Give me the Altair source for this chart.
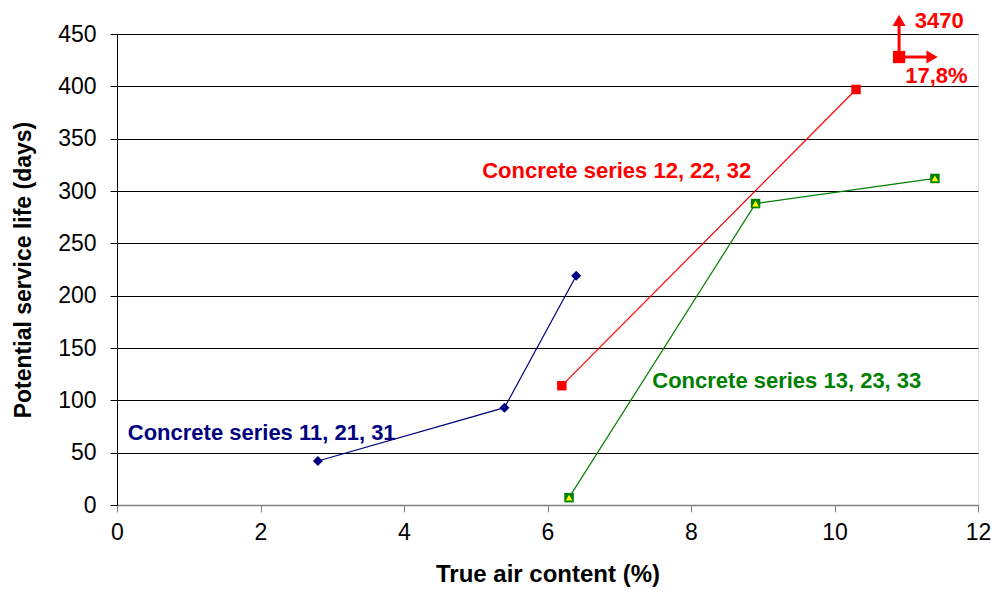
import altair as alt
import pandas as pd

# Data series
s1_x = [2.8, 5.4, 6.4]
s1_y = [42, 93, 219]
s2_x = [6.2, 10.3]
s2_y = [114, 397]
s3_x = [6.3, 8.9, 11.4]
s3_y = [7, 288, 312]

series_names = ["S11", "S12", "S13"]
series_colors = ["#000080", "#FF0000", "#008000"]

rows = []
for name, xs, ys in zip(series_names, [s1_x, s2_x, s3_x], [s1_y, s2_y, s3_y]):
    for i, (a, b) in enumerate(zip(xs, ys)):
        rows.append({"series": name, "x": a, "y": b, "order": i})
df = pd.DataFrame(rows)

# Annotations
label_text = ["Concrete  series 11, 21, 31", "Concrete series 12, 22, 32", "Concrete series 13, 23, 33"]
label_x = [0.15, 5.09, 7.46]
label_y = [69, 319, 118]
label_df = pd.DataFrame({"text": label_text, "x": label_x, "y": label_y, "series": series_names})

# Off-scale marker (3470 days, 17.8 %)
off_x = [10.9]
off_y = [428]
arrow_df = pd.DataFrame({"x": [10.9, 10.9], "y": [428, 428], "x2": [10.9, 11.3], "y2": [458, 428]})
head_df = pd.DataFrame({"x": [10.9, 11.36], "y": [463, 428], "shape": ["triangle-up", "triangle-right"]})
off_text = pd.DataFrame({"text": ["3470", "17,8%"], "x": [11.46, 11.42], "y": [462, 410]})

FONT = "Liberation Sans"

xs = alt.Scale(domain=[0, 12], nice=False)
ys = alt.Scale(domain=[0, 450], nice=False)
col = alt.Scale(domain=series_names, range=series_colors)

base = alt.Chart(df)

lines = base.mark_line(strokeWidth=1.2).encode(
    x=alt.X("x:Q", scale=xs, title="True air content (%)",
            axis=alt.Axis(values=[0, 2, 4, 6, 8, 10, 12], format="d", grid=False, tickSize=7,
                          labelFlush=False, labelOverlap=False,
                          domainColor="#808080", tickColor="#808080", domainWidth=1.5,
                          labelFontSize=23, titleFontSize=24, titleFontWeight="bold",
                          labelFont=FONT, titleFont=FONT, labelColor="black", titleColor="black",
                          labelPadding=9, titlePadding=18)),
    y=alt.Y("y:Q", scale=ys, title="Potential service life (days)",
            axis=alt.Axis(values=list(range(0, 451, 50)), format="d", grid=True, gridColor="#000000",
                          labelFlush=False, labelOverlap=False,
                          gridWidth=1, tickSize=7, domainColor="#000000", tickColor="#000000",
                          labelFontSize=23, titleFontSize=23, titleFontWeight="bold",
                          labelFont=FONT, titleFont=FONT, labelColor="black", titleColor="black",
                          labelPadding=14, titlePadding=22)),
    color=alt.Color("series:N", scale=col, legend=None),
    detail="series:N",
    order="order:Q",
)

m1 = alt.Chart(df[df.series == "S11"]).mark_point(shape="diamond", filled=True, size=100, opacity=1, color="#000080").encode(
    x=alt.X("x:Q", scale=xs), y=alt.Y("y:Q", scale=ys))
m2 = alt.Chart(df[df.series == "S12"]).mark_point(shape="square", filled=True, size=90, opacity=1, color="#FF0000").encode(
    x=alt.X("x:Q", scale=xs), y=alt.Y("y:Q", scale=ys))
m3a = alt.Chart(df[df.series == "S13"]).mark_point(shape="square", filled=True, size=90, opacity=1, color="#008000").encode(
    x=alt.X("x:Q", scale=xs), y=alt.Y("y:Q", scale=ys))
m3b = alt.Chart(df[df.series == "S13"]).mark_point(shape="triangle-up", filled=True, size=45, opacity=1, color="#FFFF00").encode(
    x=alt.X("x:Q", scale=xs), y=alt.Y("y:Q", scale=ys))

labels = alt.Chart(label_df).mark_text(align="left", baseline="middle", fontSize=22, fontWeight="bold", font=FONT).encode(
    x=alt.X("x:Q", scale=xs), y=alt.Y("y:Q", scale=ys),
    text="text:N", color=alt.Color("series:N", scale=col, legend=None))

off_pt = alt.Chart(pd.DataFrame({"x": off_x, "y": off_y})).mark_point(shape="square", filled=True, size=150, opacity=1, color="#FF0000").encode(
    x=alt.X("x:Q", scale=xs), y=alt.Y("y:Q", scale=ys))
arrows = alt.Chart(arrow_df).mark_rule(color="#FF0000", strokeWidth=3).encode(
    x=alt.X("x:Q", scale=xs), y=alt.Y("y:Q", scale=ys), x2="x2:Q", y2="y2:Q")
heads = alt.Chart(head_df).mark_point(filled=True, size=170, opacity=1, color="#FF0000").encode(
    x=alt.X("x:Q", scale=xs), y=alt.Y("y:Q", scale=ys),
    shape=alt.Shape("shape:N", scale=None))
off_lbl = alt.Chart(off_text).mark_text(fontSize=22, fontWeight="bold", font=FONT, color="#FF0000").encode(
    x=alt.X("x:Q", scale=xs), y=alt.Y("y:Q", scale=ys), text="text:N")

chart = alt.layer(lines, m1, m2, m3a, m3b, labels, arrows, heads, off_pt, off_lbl).properties(
    width=861, height=471,
    autosize=alt.AutoSizeParams(type="none"),
    padding={"left": 109, "top": 26, "right": 13, "bottom": 84},
).configure_view(stroke="#808080", strokeWidth=1.5).configure(background="white")

chart.save("out.html", embed_options={"renderer": "svg", "actions": False})
